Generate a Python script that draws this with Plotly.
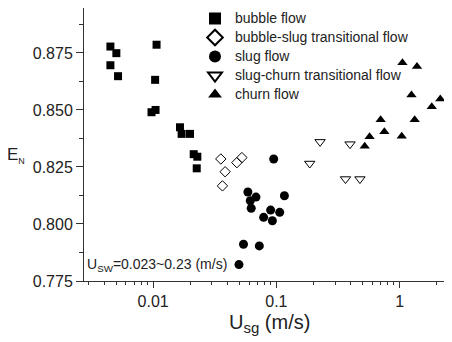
import plotly.graph_objects as go

# ---- data ----
bubble_x = [0.00450, 0.00503, 0.00450, 0.00519, 0.01066, 0.01038, 0.00970, 0.01046,
            0.01651, 0.01703, 0.01991, 0.02134, 0.02284, 0.02258]
bubble_y = [0.8778, 0.8749, 0.8696, 0.8648, 0.8786, 0.8632, 0.8490, 0.8500,
            0.8424, 0.8395, 0.8395, 0.8306, 0.8295, 0.8244]

bs_x = [0.0354, 0.0384, 0.0365, 0.0478, 0.0525]
bs_y = [0.8285, 0.8229, 0.8167, 0.8269, 0.8291]

slug_x = [0.0951, 0.0587, 0.0683, 0.0614, 0.0625, 0.1162, 0.0898, 0.1064, 0.0788,
          0.0928, 0.0541, 0.0727, 0.0497]
slug_y = [0.8285, 0.8140, 0.8118, 0.8102, 0.8069, 0.8124, 0.8061, 0.8051, 0.8029,
          0.8014, 0.7911, 0.7904, 0.7822]

sc_x = [0.2262, 0.3958, 0.1865, 0.3637, 0.4764]
sc_y = [0.8360, 0.8350, 0.8265, 0.8197, 0.8197]

churn_x = [0.521, 0.5706, 0.7516, 0.7015, 1.040, 1.325, 1.248, 1.823, 2.138, 1.054, 1.383, 2.537]
churn_y = [0.8341, 0.8382, 0.8404, 0.8457, 0.8385, 0.8457, 0.8566, 0.8514, 0.8548, 0.8707, 0.8691, 0.8750]

names = ["bubble flow", "bubble-slug transitional flow", "slug flow",
         "slug-churn transitional flow", "churn flow"]

x_ticks = [0.01, 0.1, 1]
x_ticktext = ["0.01", "0.1", "1"]
x_minor = [m * 10 ** e for e in (-3, -2, -1, 0) for m in range(2, 10)]
y_ticks = [0.775, 0.800, 0.825, 0.850, 0.875]
y_ticktext = ["0.775", "0.800", "0.825", "0.850", "0.875"]

FONT = "Arial, Liberation Sans, sans-serif"

def leg(s):
    return '<span style="font-size:14px">' + s + '</span>'

fig = go.Figure()
fig.add_trace(go.Scatter(x=bubble_x, y=bubble_y, mode="markers", name=leg(names[0]),
                         marker=dict(symbol="square", size=8, color="black")))
fig.add_trace(go.Scatter(x=bs_x, y=bs_y, mode="markers", name=leg(names[1]),
                         marker=dict(symbol="diamond-open", size=8, color="black",
                                     line=dict(width=1, color="black"))))
fig.add_trace(go.Scatter(x=slug_x, y=slug_y, mode="markers", name=leg(names[2]),
                         marker=dict(symbol="circle", size=9, color="black")))
fig.add_trace(go.Scatter(x=sc_x, y=sc_y, mode="markers", name=leg(names[3]),
                         marker=dict(symbol="triangle-down-open", size=9, color="black",
                                     line=dict(width=1, color="black"))))
fig.add_trace(go.Scatter(x=churn_x, y=churn_y, mode="markers", name=leg(names[4]),
                         marker=dict(symbol="triangle-up", size=9, color="black"),
                         cliponaxis=False))

axis_line = "#333333"
fig.update_xaxes(type="log", range=[-2.561, 0.425], automargin=False,
                 tickvals=x_ticks, ticktext=x_ticktext,
                 ticks="outside", ticklen=6, tickwidth=1, tickcolor=axis_line,
                 minor=dict(tickvals=x_minor, ticks="outside", ticklen=3,
                            tickcolor=axis_line, showgrid=False),
                 showline=True, linecolor=axis_line, linewidth=1, mirror=True,
                 showgrid=False, zeroline=False,
                 tickfont=dict(family=FONT, size=16, color="#222"))
fig.update_yaxes(range=[0.775, 0.8947], automargin=False,
                 tickvals=y_ticks, ticktext=y_ticktext,
                 ticks="outside", ticklen=7, tickwidth=1, tickcolor=axis_line,
                 minor=dict(dtick=0.0125, tick0=0.775, ticks="outside", ticklen=4,
                            tickcolor=axis_line, showgrid=False),
                 showline=True, linecolor=axis_line, linewidth=1, mirror=True,
                 showgrid=False, zeroline=False,
                 tickfont=dict(family=FONT, size=16, color="#222"))

# The page body has an 8px margin, so the figure is drawn 8px right and down.
OFF = 8
W, H = 444, 334
L, R, T, B = 84 - OFF, 0, 8 - OFF, H - (281 - OFF)
pw, ph = W - L - R, H - T - B

def px(xs):
    """screen x pixel -> paper x"""
    return (xs - OFF - L) / pw

def py(ys):
    """screen y pixel -> paper y"""
    return (H - B - (ys - OFF)) / ph

fig.add_annotation(text='E<sub><span style="font-size:9px">N</span></sub>',
                   xref="paper", yref="paper",
                   x=px(5), y=py(155), xanchor="left", yanchor="middle", showarrow=False,
                   font=dict(family=FONT, size=17, color="#222"))
fig.add_annotation(text='U<sub><span style="font-size:15px">sg</span></sub> (m/s)',
                   xref="paper", yref="paper",
                   x=px(227), y=py(324), xanchor="left", yanchor="middle", showarrow=False,
                   font=dict(family=FONT, size=20, color="#222"))
fig.add_annotation(text="U<sub>SW</sub>=0.023~0.23 (m/s)", xref="paper", yref="paper",
                   x=px(85), y=py(265), xanchor="left", yanchor="middle", showarrow=False,
                   font=dict(family=FONT, size=14, color="#222"))

fig.update_layout(
    width=W, height=H,
    margin=dict(l=L, r=R, t=T, b=B, autoexpand=False),
    paper_bgcolor="white", plot_bgcolor="white",
    showlegend=True,
    legend=dict(x=px(195), y=py(4), xanchor="left", yanchor="top",
                bgcolor="rgba(0,0,0,0)", borderwidth=0,
                font=dict(family=FONT, size=12, color="#222"),
                tracegroupgap=0, itemsizing="constant"),
    font=dict(family=FONT, color="#222"),
)

fig.write_html("out.html")
